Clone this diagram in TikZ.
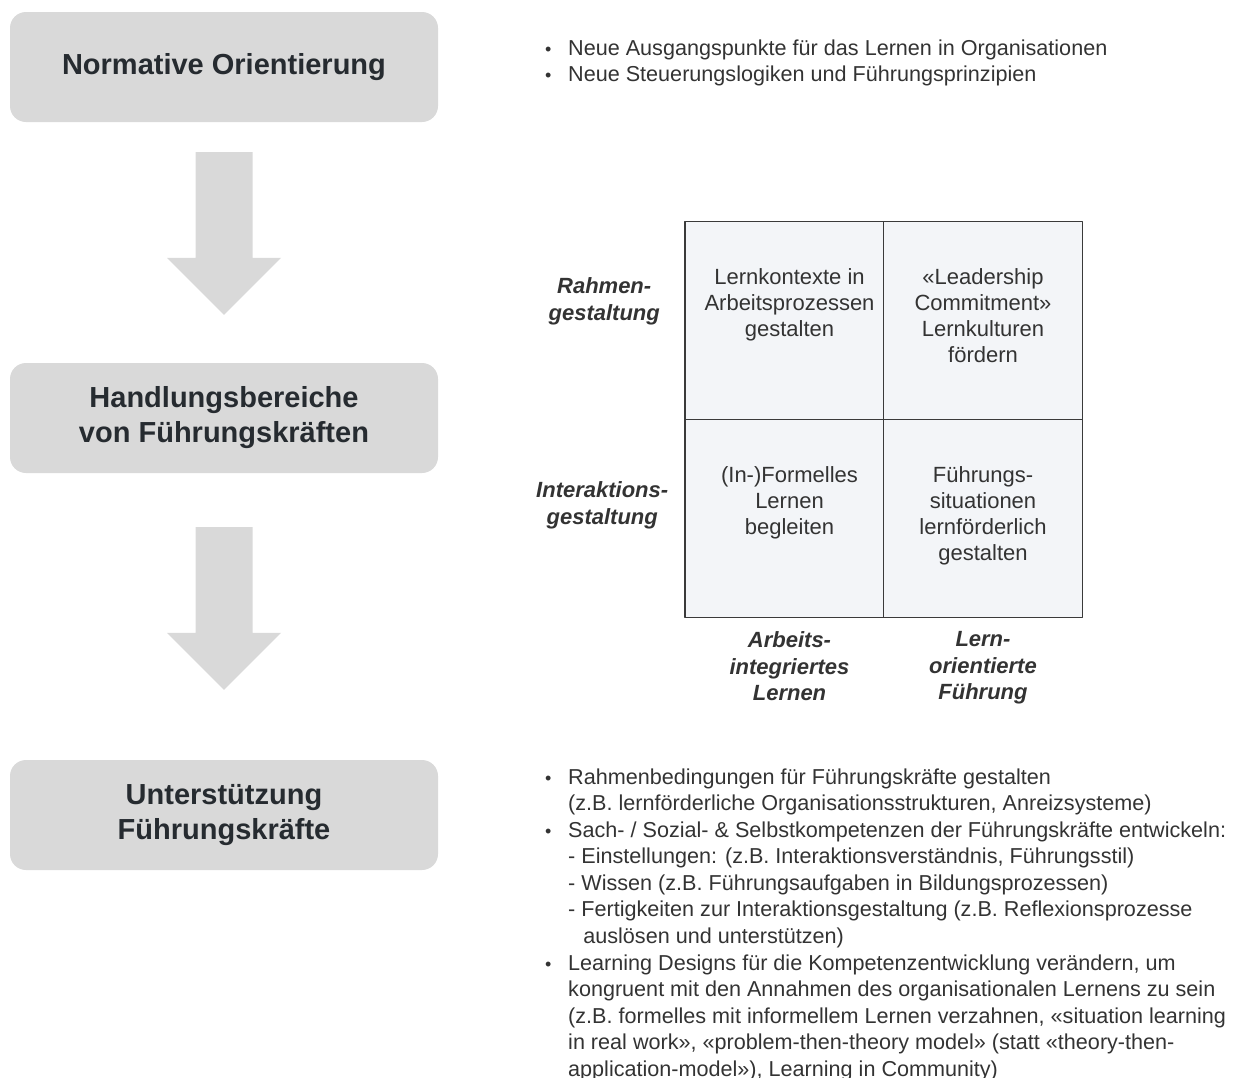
\documentclass[tikz,border=0pt]{standalone}
\usepackage{fontspec}
\setmainfont{Liberation Sans}
\usepackage{xcolor}
\usetikzlibrary{calc,positioning}
\definecolor{boxgray}{HTML}{D9D9D9}
\definecolor{cellfill}{HTML}{F3F5F8}
\definecolor{gridline}{HTML}{3A3A3A}
\definecolor{textgray}{HTML}{333333}
\definecolor{headgray}{HTML}{262B30}
% lines of a list item, baseline on the first line
\newcommand{\itemlines}[1]{\begin{tabular}[t]{@{}l@{}}#1\end{tabular}}

\begin{document}
\begin{tikzpicture}[x=1pt, y=-1pt, line join=round,
	stage/.style={rounded corners=16pt, fill=boxgray, minimum width=428pt, minimum height=110pt,
		align=center, text=headgray, font=\fontsize{29}{35}\selectfont\bfseries},
	cell/.style={draw=gridline, line width=1.6pt, fill=cellfill, minimum width=199pt, minimum height=198pt},
	celltext/.style={align=center, anchor=north, text=textgray, font=\fontsize{22}{26}\selectfont},
	axislabel/.style={align=center, text=textgray, font=\fontsize{22}{26.5}\selectfont\bfseries\itshape},
	listtext/.style={anchor=base west, inner sep=0pt, text=textgray, font=\fontsize{21.6}{26.6}\selectfont},
	dot/.style={anchor=base west, inner sep=0pt, text=textgray, font=\fontsize{18}{20}\selectfont}]
	\useasboundingbox (0,0) rectangle (1239,1077);

	% left column: three stages
	\node[stage] (norm) at (224,67) {Normative Orientierung};
	\node[stage] (hand) at (224,418) {Handlungsbereiche\\von Führungskräften};
	\node[stage] (supp) at (224,815) {Unterstützung\\Führungskräfte};

	% block arrows between the stages
	\foreach \from/\to/\ga/\gb in {norm/hand/30/48, hand/supp/54/70}{
		\fill[boxgray] ($(\from.south)+(-28.5,\ga)$) -- ($(\from.south)+(28.5,\ga)$)
			-- ($(\to.north)+(28.5,-\gb-57)$) -- ($(\to.north)+(57,-\gb-57)$)
			-- ($(\to.north)+(0,-\gb)$)
			-- ($(\to.north)+(-57,-\gb-57)$) -- ($(\to.north)+(-28.5,-\gb-57)$) -- cycle;
	}

	% top list
	\node[dot] (t1) at (545,55) {•};
	\node[listtext] (top1) at (568,55) {Neue Ausgangspunkte für das Lernen in Organisationen};
	\node[dot] (t2) at (545,81) {•};
	\node[listtext] (top2) at (568,81) {Neue Steuerungslogiken und Führungsprinzipien};

	% 2x2 matrix
	\node[cell] (c11) at (784.5,320.5) {};
	\node[cell] (c12) at (983,320.5) {};
	\node[cell] (c21) at (784.5,518.5) {};
	\node[cell] (c22) at (983,518.5) {};

	\node[celltext, below=44pt of c11.north, xshift=5pt] (l11) {Lernkontexte in\\Arbeitsprozessen\\gestalten};
	\node[celltext, below=44pt of c12.north] (l12) {«Leadership\\Commitment»\\Lernkulturen\\fördern};
	\node[celltext, below=44pt of c21.north, xshift=5pt] (l21) {(In-)Formelles\\Lernen\\begleiten};
	\node[celltext, below=44pt of c22.north] (l22) {Führungs-\\situationen\\lernförderlich\\gestalten};

	\node[axislabel] (rahmen) at ($(c11.west)+(-80,-19)$) {Rahmen-\\gestaltung};
	\node[axislabel] (inter) at ($(c21.west)+(-82,-13)$) {Interaktions-\\gestaltung};
	\node[axislabel, below=10pt of c21.south, xshift=5pt] (arbeit) {Arbeits-\\integriertes\\Lernen};
	\node[axislabel, below=10pt of c22.south] (lern) {Lern-\\orientierte\\Führung};

	% bottom list
	\node[dot] (b1) at (545,784) {•};
	\node[listtext] (bot1) at (568,784) {\itemlines{Rahmenbedingungen für Führungskräfte gestalten\\
		(z.B. lernförderliche Organisationsstrukturen, Anreizsysteme)}};
	\node[dot] (b2) at (545,837) {•};
	\node[listtext] (bot2) at (568,837) {\itemlines{Sach- / Sozial- \& Selbstkompetenzen der Führungskräfte entwickeln:\\
		- Einstellungen: (z.B. Interaktionsverständnis, Führungsstil)\\
		- Wissen (z.B. Führungsaufgaben in Bildungsprozessen)\\
		- Fertigkeiten zur Interaktionsgestaltung (z.B. Reflexionsprozesse\\
		\hspace*{0.7em}auslösen und unterstützen)}};
	\node[dot] (b3) at (545,970) {•};
	\node[listtext] (bot3) at (568,970) {\itemlines{Learning Designs für die Kompetenzentwicklung verändern, um\\
		kongruent mit den Annahmen des organisationalen Lernens zu sein\\
		(z.B. formelles mit informellem Lernen verzahnen, «situation learning\\
		in real work», «problem-then-theory model» (statt «theory-then-\\
		application-model»), Learning in Community)}};
\end{tikzpicture}
\end{document}
